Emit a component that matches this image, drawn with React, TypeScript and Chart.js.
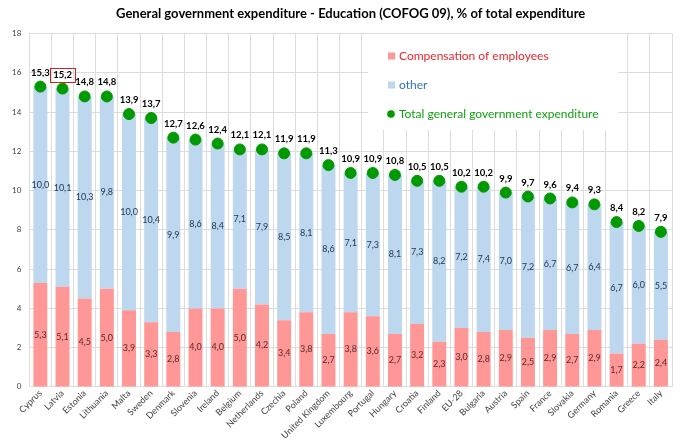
import React, { useEffect, useRef } from 'react';
import { Chart, registerables } from 'chart.js';

Chart.register(...registerables);

const categories = [
  'Cyprus', 'Latvia', 'Estonia', 'Lithuania', 'Malta', 'Sweden', 'Denmark', 'Slovenia', 'Ireland', 'Belgium',
  'Netherlands', 'Czechia', 'Poland', 'United Kingdom', 'Luxembourg', 'Portugal', 'Hungary', 'Croatia', 'Finland',
  'EU-28', 'Bulgaria', 'Austria', 'Spain', 'France', 'Slovakia', 'Germany', 'Romania', 'Greece', 'Italy',
];
const compensation = [5.3, 5.1, 4.5, 5.0, 3.9, 3.3, 2.8, 4.0, 4.0, 5.0, 4.2, 3.4, 3.8, 2.7, 3.8, 3.6, 2.7, 3.2, 2.3, 3.0, 2.8, 2.9, 2.5, 2.9, 2.7, 2.9, 1.7, 2.2, 2.4];
const other = [10.0, 10.1, 10.3, 9.8, 10.0, 10.4, 9.9, 8.6, 8.4, 7.1, 7.9, 8.5, 8.1, 8.6, 7.1, 7.3, 8.1, 7.3, 8.2, 7.2, 7.4, 7.0, 7.2, 6.7, 6.7, 6.4, 6.7, 6.0, 5.5];
const total = [15.3, 15.2, 14.8, 14.8, 13.9, 13.7, 12.7, 12.6, 12.4, 12.1, 12.1, 11.9, 11.9, 11.3, 10.9, 10.9, 10.8, 10.5, 10.5, 10.2, 10.2, 9.9, 9.7, 9.6, 9.4, 9.3, 8.4, 8.2, 7.9];
const seriesNames = ['Compensation of employees', 'other', 'Total general government expenditure'];
const highlighted = 'Latvia';

const FONT = 'Lato, "Open Sans", sans-serif';
const fmt = (v: number) => v.toFixed(1).replace('.', ',');

const labelPlugin = {
  id: 'valueLabels',
  afterDatasetsDraw(chart: any) {
    const ctx = chart.ctx;
    ctx.save();
    ctx.textAlign = 'center';
    ctx.textBaseline = 'middle';
    const colors = ['#5a2a2a', '#1f3350'];
    [0, 1].forEach((di) => {
      const meta = chart.getDatasetMeta(di);
      const vals = chart.data.datasets[di].data as number[];
      ctx.font = `9px ${FONT}`;
      ctx.fillStyle = colors[di];
      meta.data.forEach((bar: any, j: number) => {
        const { x, y, base } = bar.getProps(['x', 'y', 'base'], true);
        ctx.fillText(fmt(vals[j]), x, (y + base) / 2);
      });
    });
    const pm = chart.getDatasetMeta(2);
    const tv = chart.data.datasets[2].data as number[];
    ctx.font = `bold 9.5px ${FONT}`;
    ctx.fillStyle = '#000';
    pm.data.forEach((pt: any, j: number) => {
      const ty = pt.y - 14;
      ctx.fillText(fmt(tv[j]), pt.x, ty);
      if (categories[j] === highlighted) {
        const w = ctx.measureText(fmt(tv[j])).width;
        ctx.strokeStyle = '#c0282d';
        ctx.lineWidth = 1;
        ctx.strokeRect(Math.round(pt.x - w / 2 - 3) + 0.5, Math.round(ty - 7) + 0.5, Math.round(w + 6), 14);
      }
    });
    ctx.restore();
  },
};

const legendPlugin = {
  id: 'insideLegend',
  beforeDatasetsDraw(chart: any) {
    const ctx = chart.ctx;
    ctx.save();
    ctx.fillStyle = '#fff';
    ctx.fillRect(368, 34, 250, 96);
    const items = [
      { text: seriesNames[0], color: '#e8262e', mark: '#ff9797', circle: false },
      { text: seriesNames[1], color: '#2e75b6', mark: '#bdd7ee', circle: false },
      { text: seriesNames[2], color: '#10a010', mark: '#009a00', circle: true },
    ];
    ctx.font = `12px ${FONT}`;
    ctx.textBaseline = 'middle';
    ctx.textAlign = 'left';
    items.forEach((it, i) => {
      const cy = 56 + i * 29;
      ctx.fillStyle = it.mark;
      if (it.circle) {
        ctx.beginPath();
        ctx.arc(391, cy, 3.8, 0, Math.PI * 2);
        ctx.fill();
      } else {
        ctx.fillRect(388, cy - 3.5, 7, 7);
      }
      ctx.fillStyle = it.color;
      ctx.fillText(it.text, 399, cy);
    });
    ctx.restore();
  },
};

const App: React.FC = () => {
  const chartRef = useRef<HTMLCanvasElement>(null);

  useEffect(() => {
    if (!chartRef.current) return;
    const ctx = chartRef.current.getContext('2d');
    if (!ctx) return;
    const chart = new Chart(ctx, {
      type: 'bar',
      data: {
        labels: categories,
        datasets: [
          { type: 'bar', label: seriesNames[0], data: compensation, backgroundColor: '#ff9797', stack: 's', order: 2 },
          { type: 'bar', label: seriesNames[1], data: other, backgroundColor: '#bdd7ee', stack: 's', order: 2 },
          {
            type: 'line', label: seriesNames[2], data: total, showLine: false, order: 0,
            pointRadius: 5.5, pointBackgroundColor: '#009a00', pointBorderColor: '#009a00', borderColor: '#009a00',
          } as any,
        ],
      },
      options: {
        responsive: true,
        maintainAspectRatio: false,
        animation: false,
        layout: { padding: { left: 4, right: 8, bottom: 0 } },
        datasets: { bar: { categoryPercentage: 1, barPercentage: 0.63 } },
        plugins: {
          legend: { display: false },
          tooltip: { enabled: false },
          title: {
            display: true,
            fullSize: false,
            text: 'General government expenditure - Education (COFOG 09), % of total expenditure',
            color: '#000',
            font: { family: FONT, size: 13, weight: 'bold' },
            padding: { top: 6, bottom: 12 },
          },
        },
        scales: {
          x: {
            stacked: true,
            grid: { color: '#dcdcdc', offset: true, drawTicks: false },
            border: { color: '#dcdcdc' },
            ticks: {
              color: '#404040', font: { family: FONT, size: 9 },
              minRotation: 45, maxRotation: 45, autoSkip: false, padding: 1,
            },
          },
          y: {
            stacked: true,
            min: 0,
            max: 18,
            grid: { color: '#dcdcdc', drawTicks: false },
            border: { display: false },
            ticks: { stepSize: 2, color: '#404040', font: { family: FONT, size: 8 }, padding: 8 },
          },
        },
      },
      plugins: [labelPlugin, legendPlugin],
    });
    return () => {
      chart.destroy();
    };
  }, []);

  return (
    <div style={{ position: 'absolute', left: 0, top: 0, width: 680, height: 442, background: '#fff' }}>
      <canvas ref={chartRef}></canvas>
    </div>
  );
};

export default App;
